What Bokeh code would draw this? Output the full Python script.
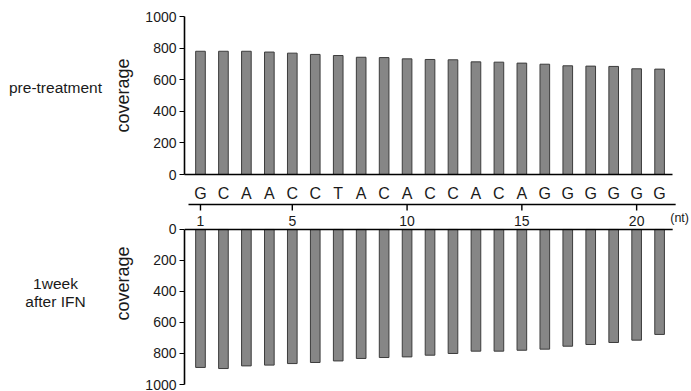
from bokeh.plotting import figure
from bokeh.layouts import column, row
from bokeh.models import Range1d, FixedTicker, ColumnDataSource
from bokeh.core.properties import value
from bokeh.embed import file_html
from bokeh.resources import INLINE

# ---- data ----
positions = list(range(1, 22))
nucleotides = list("GCAACCTACACCACAGGGGGG")
pre_treatment = [780, 780, 780, 775, 768, 760, 753, 742, 740, 732, 728,
                 726, 713, 711, 705, 698, 688, 686, 684, 669, 667]
after_ifn = [890, 897, 880, 875, 865, 858, 848, 832, 826, 822, 811,
             800, 785, 785, 779, 772, 753, 742, 729, 714, 677]
y_ticks = [0, 200, 400, 600, 800, 1000]
nt_ticks = [1, 5, 10, 15, 20]
nt_tick_labels = ["1", "5", "10", "15", "20"]

FONT = "Liberation Sans"
TXT = "#1a1a1a"
BAR_FILL = "#868686"
BAR_LINE = "#3c3c3c"
LEFT_W = 110
MAIN_W = 581
XR = (0.304, 22.39)       # x range of the frames
AXIS_END = 21.57          # where the drawn x axis lines stop

src = ColumnDataSource(dict(x=positions, pre=pre_treatment, post=after_ifn, nt=nucleotides))


def style_y(p):
    ax = p.yaxis[0]
    ax.ticker = FixedTicker(ticks=y_ticks)
    ax.bounds = (0, 1000)
    ax.axis_label = "coverage"
    ax.axis_label_text_font = FONT
    ax.axis_label_text_font_size = "18px"
    ax.axis_label_text_font_style = "normal"
    ax.axis_label_text_color = TXT
    ax.axis_label_standoff = 9
    ax.major_label_text_font = FONT
    ax.major_label_text_font_size = "14px"
    ax.major_label_text_color = TXT
    ax.major_label_standoff = 3
    ax.major_tick_out = 5
    ax.major_tick_in = 0
    ax.minor_tick_out = 0
    ax.minor_tick_in = 0
    ax.axis_line_width = 1.6
    ax.axis_line_color = "black"
    ax.major_tick_line_color = "black"


# ---- left text column ----
pl = figure(width=LEFT_W, height=391, output_backend="svg", toolbar_location=None,
            x_range=Range1d(0, LEFT_W), y_range=Range1d(391, 0),
            min_border_left=0, min_border_right=0, min_border_top=0, min_border_bottom=0)
pl.axis.visible = False
pl.grid.visible = False
pl.outline_line_color = None
pl.text(x=[55, 55, 55], y=[87, 283, 301], text=["pre-treatment", "1week", "after IFN"],
        text_align="center", text_baseline="middle", text_font=value(FONT),
        text_font_size="15.5px", text_color=TXT)

# ---- top: pre-treatment ----
p1 = figure(width=MAIN_W, height=182, output_backend="svg", toolbar_location=None,
            x_range=Range1d(*XR), y_range=Range1d(0, 1000),
            min_border_left=183 - LEFT_W, min_border_right=0, min_border_top=16, min_border_bottom=8)
p1.vbar(x="x", top="pre", bottom=0, width=0.42, source=src,
        fill_color=BAR_FILL, line_color=BAR_LINE, line_width=1)
style_y(p1)
ax1 = p1.xaxis[0]
ax1.ticker = FixedTicker(ticks=[])
ax1.bounds = (XR[0], AXIS_END)
ax1.major_tick_out = 0
ax1.major_tick_in = 0
ax1.minor_tick_out = 0
ax1.major_label_standoff = 0
ax1.major_label_text_font_size = "0px"
ax1.axis_line_width = 1.6
ax1.axis_line_color = "black"
p1.grid.visible = False
p1.outline_line_color = None

# ---- bottom: sequence, nt scale and 1 week after IFN ----
# y is coverage, inverted; negative values hold the sequence strip above the bars
p3 = figure(width=MAIN_W, height=209, output_backend="svg", toolbar_location=None,
            x_range=Range1d(*XR), y_range=Range1d(1000, -303),
            min_border_left=183 - LEFT_W, min_border_right=0, min_border_top=0, min_border_bottom=7)
p3.xaxis.visible = False
p3.grid.visible = False
p3.outline_line_color = None
style_y(p3)
p3.vbar(x="x", top="post", bottom=0, width=0.42, source=src,
        fill_color=BAR_FILL, line_color=BAR_LINE, line_width=1)
# baseline of the bottom panel
p3.segment(x0=[XR[0]], x1=[AXIS_END], y0=[0], y1=[0], line_color="black", line_width=1.6)
# sequence letters
p3.text(x="x", y=-232, text="nt", source=src, text_align="center", text_baseline="middle",
        text_font=value(FONT), text_font_size="16px", text_color=TXT)
# nt scale
p3.segment(x0=[0.478], x1=[21.70], y0=[-161], y1=[-161], line_color="black", line_width=1.6)
p3.segment(x0=nt_ticks, x1=nt_ticks, y0=-161, y1=-122, line_color="black", line_width=1.4)
p3.text(x=nt_ticks, y=-55, text=nt_tick_labels, text_align="center", text_baseline="middle",
        text_font=value(FONT), text_font_size="14px", text_color=TXT)
p3.text(x=[22.28], y=[-71], text=["(nt)"], text_align="right", text_baseline="middle",
        text_font=value(FONT), text_font_size="12.5px", text_color=TXT)

layout = row(pl, column(p1, p3, spacing=0), spacing=0)
open("out.html", "w").write(file_html(layout, INLINE))
